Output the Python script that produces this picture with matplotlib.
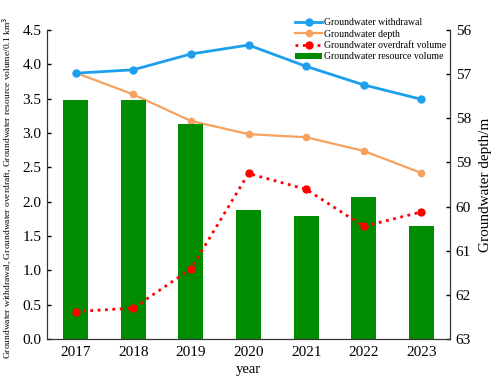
import matplotlib
matplotlib.use("Agg")
import matplotlib.pyplot as plt

years = [2017, 2018, 2019, 2020, 2021, 2022, 2023]
withdrawal = [3.87, 3.92, 4.15, 4.28, 3.97, 3.70, 3.49]
depth = [56.97, 57.46, 58.06, 58.36, 58.43, 58.74, 59.24]
overdraft = [0.40, 0.45, 1.02, 2.41, 2.18, 1.64, 1.85]
resource = [3.48, 3.48, 3.13, 1.88, 1.79, 2.07, 1.65]

plt.rcParams['font.family'] = ['Liberation Serif', 'DejaVu Serif']

fig = plt.figure(figsize=(4.98, 3.79), dpi=100)
ax = fig.add_axes([0.094, 0.1055, 0.81, 0.8155])
ax2 = ax.twinx()

b = ax.bar(years, resource, width=0.43, color='#008c00', label='Groundwater resource volume', zorder=1)
l1, = ax.plot(years, withdrawal, '-o', color='#1ca0ee', lw=2, ms=5, label='Groundwater withdrawal', zorder=3)
l3, = ax.plot(years, overdraft, ':o', color='#ff0000', lw=2, ms=5, label='Groundwater overdraft volume', zorder=3)
l2, = ax2.plot(years, depth, '-o', color='#f6a25e', lw=1.6, ms=4.5, label='Groundwater depth', zorder=3)

ax.set_xlim(2016.5, 2023.5)
ax.set_ylim(0, 4.5)
ax.set_yticks([0, 0.5, 1.0, 1.5, 2.0, 2.5, 3.0, 3.5, 4.0, 4.5])
ax.set_xticks(years)
ax2.set_ylim(63, 56)
ax2.set_yticks([56, 57, 58, 59, 60, 61, 62, 63])

for a in (ax, ax2):
    a.spines['top'].set_visible(False)
    for s in a.spines.values():
        s.set_color('#333333')
    a.tick_params(labelsize=11, width=1, length=3, direction='in', pad=4)
ax.tick_params(axis='x', length=0, pad=5)
ax.set_xlabel('year', fontsize=10.5, labelpad=3)
ax.set_ylabel('Groundwater withdrawal, Groundwater overdraft, Groundwater resource volume/0.1 km$^3$',
              fontsize=6.8)
ax.yaxis.set_label_coords(-0.083, 0.49)
ax2.set_ylabel('Groundwater depth/m', fontsize=11, labelpad=6)

ax.set_zorder(ax2.get_zorder() + 1)
ax.patch.set_visible(False)

fig.legend([l1, l2, l3, b],
           ['Groundwater withdrawal', 'Groundwater depth', 'Groundwater overdraft volume', 'Groundwater resource volume'],
           loc='upper right', bbox_to_anchor=(0.905, 0.965), frameon=False, fontsize=7,
           handlelength=2.8, handletextpad=0.15, labelspacing=0.25, borderpad=0)

fig.savefig('out.png', dpi=100)
